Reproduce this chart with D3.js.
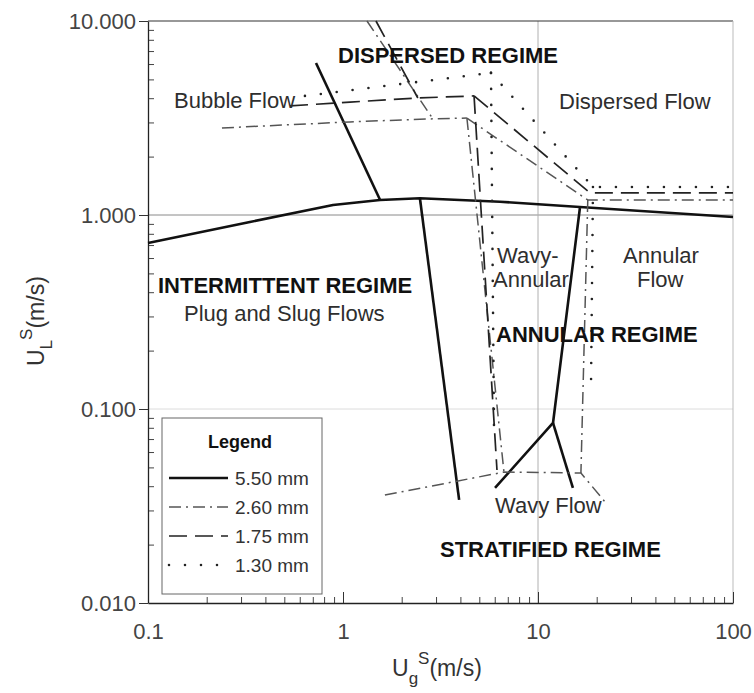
<!DOCTYPE html>
<html>
<head>
<meta charset="utf-8">
<script src="https://cdn.jsdelivr.net/npm/d3@7"></script>
<style>
  html, body { margin: 0; padding: 0; background: #ffffff; }
  svg { display: block; font-family: "Liberation Sans", Arial, Helvetica, sans-serif; }
</style>
</head>
<body>
<svg id="chart" width="754" height="693"></svg>
<script>
// ---- axis ticks ----
const xTickValues = [0.1, 1, 10, 100];
const xTickLabels = ["0.1", "1", "10", "100"];
const yTickValues = [10, 1, 0.1, 0.01];
const yTickLabels = ["10.000", "1.000", "0.100", "0.010"];

// ---- transition boundaries, [Ug_s (m/s), UL_s (m/s)] ----
// 5.50 mm tube
const d550_intermittent = [[0.1, 0.718], [0.333, 0.92], [0.889, 1.127], [1.55, 1.195], [2.48, 1.22], [6.38, 1.17], [16.4, 1.10], [100, 0.977]];
const d550_bubble = [[0.727, 6.07], [1.55, 1.195]];
const d550_stratified = [[2.48, 1.22], [3.94, 0.034]];
const d550_annular = [[16.4, 1.087], [11.94, 0.0847], [6.02, 0.0392]];
const d550_wavy = [[11.94, 0.0847], [15.1, 0.0392]];

// 2.60 mm tube
const d260_bubble = [[0.2395, 2.81], [1.086, 3.02], [2.89, 3.13], [4.32, 3.16]];
const d260_dispersed = [[1.327, 10], [2.89, 3.13]];
const d260_annular = [[4.32, 3.16], [18.0, 1.195], [100, 1.195]];
const d260_wavyAnnular = [[4.32, 3.16], [6.69, 0.0473]];
const d260_annularRight = [[18.0, 1.195], [16.6, 0.0468]];
const d260_stratified = [[1.64, 0.036], [3.67, 0.0421], [6.69, 0.0473], [16.6, 0.0468], [22.06, 0.0332]];

// 1.75 mm tube
const d175_bubble = [[0.535, 3.65], [1.086, 3.82], [2.42, 4.01], [4.70, 4.11]];
const d175_dispersed = [[1.476, 10], [2.42, 4.01]];
const d175_annular = [[4.70, 4.11], [18.5, 1.30], [100, 1.30]];
const d175_wavyAnnular = [[4.70, 4.11], [6.16, 0.0485]];

// 1.30 mm tube
const d130_bubble = [[0.638, 4.11], [1.222, 4.46], [2.665, 4.91], [5.74, 5.40]];
const d130_annular = [[5.74, 5.40], [19.14, 1.394], [100, 1.394]];
const d130_wavyAnnular = [[5.74, 5.40], [5.95, 0.078]];
const d130_annularRight = [[19.14, 1.394], [18.7, 0.133]];

const seriesNames = ["5.50 mm", "2.60 mm", "1.75 mm", "1.30 mm"];

// line styles per tube diameter
const styles = {
  "5.50 mm": { stroke: "#111", width: 2.6, dash: null, cap: "butt" },
  "2.60 mm": { stroke: "#555", width: 1.5, dash: "12,5,2,5", cap: "butt" },
  "1.75 mm": { stroke: "#222", width: 1.7, dash: "18,8", cap: "butt" },
  "1.30 mm": { stroke: "#222", width: 2.6, dash: "0,16", cap: "round" }
};

const series = [
  { name: "5.50 mm", lines: [d550_intermittent, d550_bubble, d550_stratified, d550_annular, d550_wavy] },
  { name: "2.60 mm", lines: [d260_bubble, d260_dispersed, d260_annular, d260_wavyAnnular, d260_annularRight, d260_stratified] },
  { name: "1.75 mm", lines: [d175_bubble, d175_dispersed, d175_annular, d175_wavyAnnular] },
  { name: "1.30 mm", lines: [d130_bubble, d130_annular, d130_wavyAnnular, d130_annularRight] }
];

// ---- layout ----
const svg = d3.select("#chart");
const plotL = 148, plotR = 733, plotT = 21, plotB = 603;

const x = d3.scaleLog().domain([0.1, 100]).range([plotL, plotR]);
const y = d3.scaleLog().domain([0.01, 10]).range([plotB, plotT]);

// minor tick positions (2..9 in each decade)
const minorX = [], minorY = [];
for (let e = -1; e < 2; e++) for (let m = 2; m <= 9; m++) minorX.push(m * Math.pow(10, e));
for (let e = -2; e < 1; e++) for (let m = 2; m <= 9; m++) minorY.push(m * Math.pow(10, e));

// reference grid lines
svg.append("line").attr("x1", plotL).attr("x2", plotR).attr("y1", y(0.1)).attr("y2", y(0.1))
  .attr("stroke", "#dcdcdc").attr("stroke-width", 1);
svg.append("line").attr("x1", plotL).attr("x2", plotR).attr("y1", y(1)).attr("y2", y(1))
  .attr("stroke", "#8a8a8a").attr("stroke-width", 1);
svg.append("line").attr("x1", x(10)).attr("x2", x(10)).attr("y1", plotT).attr("y2", plotB)
  .attr("stroke", "#b0b0b0").attr("stroke-width", 1);

// frame
svg.append("line").attr("x1", plotL).attr("x2", plotR).attr("y1", plotT).attr("y2", plotT)
  .attr("stroke", "#333").attr("stroke-width", 1.2);
svg.append("line").attr("x1", plotR).attr("x2", plotR).attr("y1", plotT).attr("y2", plotB)
  .attr("stroke", "#bbb").attr("stroke-width", 1);

// minor ticks (inside)
svg.append("g").attr("transform", `translate(0,${plotB})`)
  .call(d3.axisBottom(x).tickValues(minorX).tickSizeInner(-6).tickSizeOuter(0).tickFormat(""))
  .call(g => g.select(".domain").remove())
  .call(g => g.selectAll("line").attr("stroke", "#444"));
svg.append("g").attr("transform", `translate(${plotL},0)`)
  .call(d3.axisLeft(y).tickValues(minorY).tickSizeInner(-6).tickSizeOuter(0).tickFormat(""))
  .call(g => g.select(".domain").remove())
  .call(g => g.selectAll("line").attr("stroke", "#444"));

// major x axis
const xAxis = svg.append("g").attr("transform", `translate(0,${plotB})`)
  .call(d3.axisBottom(x).tickValues(xTickValues).tickSizeInner(-11).tickSizeOuter(0).tickPadding(20)
    .tickFormat((d, i) => xTickLabels[i]));
xAxis.select(".domain").attr("stroke", "#222").attr("stroke-width", 1.3);
xAxis.selectAll("line").attr("stroke", "#333");
xAxis.selectAll("text").attr("font-size", 22).attr("fill", "#444")
  .attr("font-family", "'Liberation Sans', Arial, sans-serif");

// major y axis
const yAxis = svg.append("g").attr("transform", `translate(${plotL},0)`)
  .call(d3.axisLeft(y).tickValues(yTickValues).tickSizeInner(9).tickSizeOuter(0).tickPadding(3)
    .tickFormat((d, i) => yTickLabels[i]));
yAxis.select(".domain").attr("stroke", "#222").attr("stroke-width", 1.3);
yAxis.selectAll("line").attr("stroke", "#333");
yAxis.selectAll("text").attr("font-size", 22).attr("fill", "#444")
  .attr("font-family", "'Liberation Sans', Arial, sans-serif");

// ---- boundary lines ----
const line = d3.line().x(d => x(d[0])).y(d => y(d[1]));
const plot = svg.append("g");
series.forEach(s => {
  const st = styles[s.name];
  plot.selectAll(null).data(s.lines).join("path")
    .attr("d", line)
    .attr("fill", "none")
    .attr("stroke", st.stroke)
    .attr("stroke-width", st.width)
    .attr("stroke-dasharray", st.dash)
    .attr("stroke-linecap", st.cap)
    .attr("stroke-linejoin", "round");
});

// ---- regime annotations ----
const notes = [
  { t: "DISPERSED REGIME", x: 338, y: 63, b: true },
  { t: "Bubble Flow", x: 174, y: 108 },
  { t: "Dispersed Flow", x: 559, y: 109 },
  { t: "INTERMITTENT REGIME", x: 158, y: 293, b: true },
  { t: "Plug and Slug Flows", x: 184, y: 321 },
  { t: "Wavy-", x: 497, y: 263 },
  { t: "Annular", x: 493, y: 287 },
  { t: "Annular", x: 623, y: 263 },
  { t: "Flow", x: 637, y: 287 },
  { t: "ANNULAR REGIME", x: 496, y: 342, b: true },
  { t: "Wavy Flow", x: 495, y: 513 },
  { t: "STRATIFIED REGIME", x: 440, y: 557, b: true }
];
svg.append("g").selectAll("text").data(notes).join("text")
  .attr("x", d => d.x).attr("y", d => d.y)
  .attr("font-size", 22)
  .attr("font-weight", d => d.b ? "bold" : "normal")
  .attr("fill", d => d.b ? "#111" : "#2e2e2e")
  .text(d => d.t);

// ---- legend ----
const lg = svg.append("g");
lg.append("rect").attr("x", 162).attr("y", 418).attr("width", 160).attr("height", 176)
  .attr("fill", "#fff").attr("stroke", "#666").attr("stroke-width", 1);
lg.append("text").attr("x", 240).attr("y", 448).attr("text-anchor", "middle")
  .attr("font-size", 18).attr("font-weight", "bold").attr("fill", "#111").text("Legend");
const rows = lg.selectAll("g.row").data(seriesNames).join("g").attr("class", "row")
  .attr("transform", (d, i) => `translate(0,${478 + i * 29})`);
rows.append("line").attr("x1", 169).attr("x2", 228).attr("y1", 0).attr("y2", 0)
  .attr("stroke", d => styles[d].stroke)
  .attr("stroke-width", d => styles[d].width)
  .attr("stroke-dasharray", d => styles[d].dash)
  .attr("stroke-linecap", d => styles[d].cap);
rows.append("text").attr("x", 235).attr("y", 7).attr("font-size", 19).attr("fill", "#333")
  .text(d => d);

// ---- axis titles ----
const xt = svg.append("text").attr("x", 392).attr("y", 676).attr("font-size", 23).attr("fill", "#333");
xt.append("tspan").text("U");
xt.append("tspan").attr("font-size", 17).attr("dy", 8).text("g");
xt.append("tspan").attr("font-size", 17).attr("dy", -20).text("S");
xt.append("tspan").attr("dy", 12).text("(m/s)");

const yt = svg.append("text").attr("transform", "translate(44,366) rotate(-90)")
  .attr("font-size", 23).attr("fill", "#333");
yt.append("tspan").text("U");
yt.append("tspan").attr("font-size", 17).attr("dy", 8).text("L");
yt.append("tspan").attr("font-size", 17).attr("dy", -20).text("S");
yt.append("tspan").attr("dy", 12).text("(m/s)");
</script>
</body>
</html>
